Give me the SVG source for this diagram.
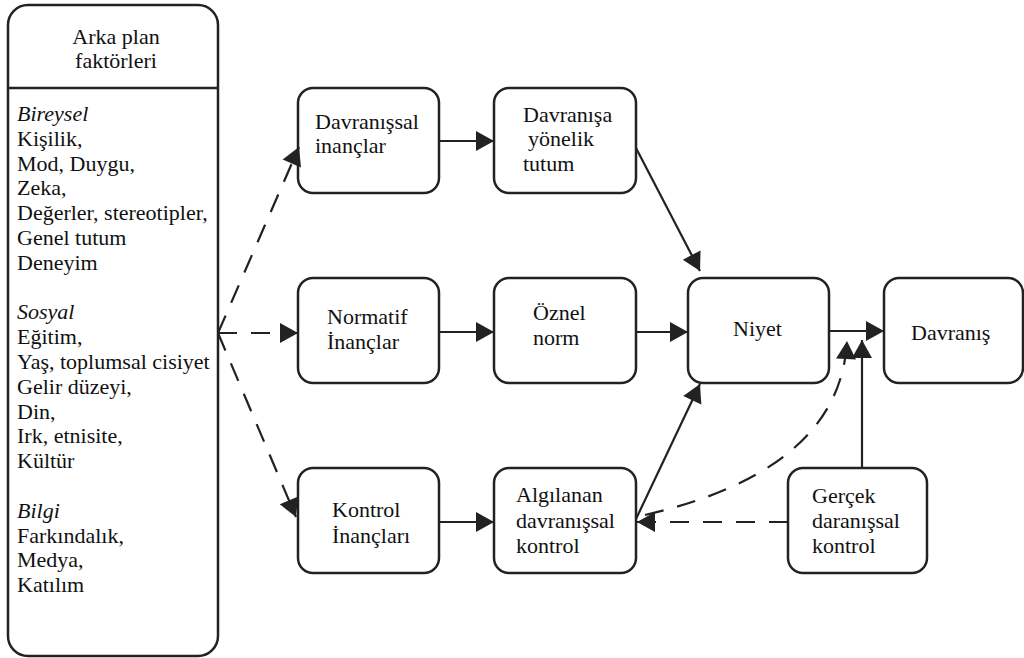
<svg xmlns="http://www.w3.org/2000/svg" width="1024" height="658" viewBox="0 0 1024 658">
<style>
.box{fill:#fff;stroke:#222;stroke-width:2.5}
.t{font-size:22px;fill:#111}
.i{font-style:italic}
.c{stroke:#222;stroke-width:2.2;fill:none}
.d{stroke-dasharray:19 14}
</style>
<defs>
<marker id="ah" markerUnits="userSpaceOnUse" markerWidth="20" markerHeight="22" refX="18" refY="10" orient="auto" overflow="visible">
<path d="M0,0 L18,10 L0,20 z" fill="#222"/>
</marker>
</defs>
<rect width="1024" height="658" fill="#fff"/>
<g font-family="Liberation Serif, Times New Roman, Times, serif">
<g id="arka-plan">
<rect class="box" x="8" y="5" width="210" height="651" rx="20"/>
<line x1="8" y1="88" x2="218" y2="88" stroke="#222" stroke-width="2.5"/>
<text class="t" x="116" y="44" text-anchor="middle">Arka plan</text>
<text class="t" x="116" y="68" text-anchor="middle">faktörleri</text>
<text class="t" x="17">
<tspan class="i" x="17" y="121">Bireysel</tspan>
<tspan x="17" y="145.8">Kişilik,</tspan>
<tspan x="17" y="170.6">Mod, Duygu,</tspan>
<tspan x="17" y="195.4">Zeka,</tspan>
<tspan x="17" y="220.2">Değerler, stereotipler,</tspan>
<tspan x="17" y="245">Genel tutum</tspan>
<tspan x="17" y="269.8">Deneyim</tspan>
<tspan class="i" x="17" y="319.4">Sosyal</tspan>
<tspan x="17" y="344.2">Eğitim,</tspan>
<tspan x="17" y="369">Yaş, toplumsal cisiyet</tspan>
<tspan x="17" y="393.8">Gelir düzeyi,</tspan>
<tspan x="17" y="418.6">Din,</tspan>
<tspan x="17" y="443.4">Irk, etnisite,</tspan>
<tspan x="17" y="468.2">Kültür</tspan>
<tspan class="i" x="17" y="517.8">Bilgi</tspan>
<tspan x="17" y="542.6">Farkındalık,</tspan>
<tspan x="17" y="567.4">Medya,</tspan>
<tspan x="17" y="592.2">Katılım</tspan>
</text>
</g>
<g id="davranissal-inanclar">
<rect class="box" x="298" y="88" width="141" height="105" rx="15"/>
<text class="t" x="315" y="129">Davranışsal</text>
<text class="t" x="315" y="153">inançlar</text>
</g>
<g id="davranisa-yonelik-tutum">
<rect class="box" x="494" y="88" width="142" height="105" rx="15"/>
<text class="t" x="523" y="122">Davranışa</text>
<text class="t" x="528" y="146">yönelik</text>
<text class="t" x="523" y="171">tutum</text>
</g>
<g id="normatif-inanclar">
<rect class="box" x="298" y="278" width="141" height="105" rx="15"/>
<text class="t" x="327" y="324">Normatif</text>
<text class="t" x="327" y="349">İnançlar</text>
</g>
<g id="oznel-norm">
<rect class="box" x="494" y="278" width="142" height="105" rx="15"/>
<text class="t" x="533" y="320">Öznel</text>
<text class="t" x="533" y="345">norm</text>
</g>
<g id="kontrol-inanclari">
<rect class="box" x="298" y="468" width="141" height="105" rx="15"/>
<text class="t" x="332" y="517">Kontrol</text>
<text class="t" x="332" y="543">İnançları</text>
</g>
<g id="algilanan-kontrol">
<rect class="box" x="494" y="468" width="142" height="105" rx="15"/>
<text class="t" x="516" y="502">Algılanan</text>
<text class="t" x="516" y="528">davranışsal</text>
<text class="t" x="516" y="553">kontrol</text>
</g>
<g id="niyet">
<rect class="box" x="688" y="278" width="141" height="105" rx="15"/>
<text class="t" x="733" y="336">Niyet</text>
</g>
<g id="davranis">
<rect class="box" x="884" y="278" width="139" height="105" rx="15"/>
<text class="t" x="911" y="340">Davranış</text>
</g>
<g id="gercek-kontrol">
<rect class="box" x="788" y="468" width="139" height="105" rx="15"/>
<text class="t" x="812" y="503">Gerçek</text>
<text class="t" x="812" y="528">daranışsal</text>
<text class="t" x="812" y="553">kontrol</text>
</g>
</g>
<g id="connectors">
<line class="c d" x1="218" y1="333" x2="299" y2="147" marker-end="url(#ah)"/>
<line class="c d" x1="218" y1="333" x2="298" y2="333" marker-end="url(#ah)"/>
<line class="c d" x1="218" y1="333" x2="296" y2="517" marker-end="url(#ah)"/>
<line class="c" x1="439" y1="141" x2="494" y2="141" marker-end="url(#ah)"/>
<line class="c" x1="439" y1="332" x2="494" y2="332" marker-end="url(#ah)"/>
<line class="c" x1="439" y1="522" x2="494" y2="522" marker-end="url(#ah)"/>
<line class="c" x1="636" y1="148" x2="700" y2="271" marker-end="url(#ah)"/>
<line class="c" x1="636" y1="332" x2="688" y2="332" marker-end="url(#ah)"/>
<line class="c" x1="636" y1="519" x2="700" y2="384" marker-end="url(#ah)"/>
<line class="c" x1="829" y1="331" x2="884" y2="331" marker-end="url(#ah)"/>
<line class="c" x1="862" y1="468" x2="862" y2="340" marker-end="url(#ah)"/>
<line class="c d" x1="788" y1="522" x2="637" y2="522" marker-end="url(#ah)"/>
<path class="c d" d="M645 515 Q840 470 847 341" marker-end="url(#ah)"/>
</g>
</svg>
